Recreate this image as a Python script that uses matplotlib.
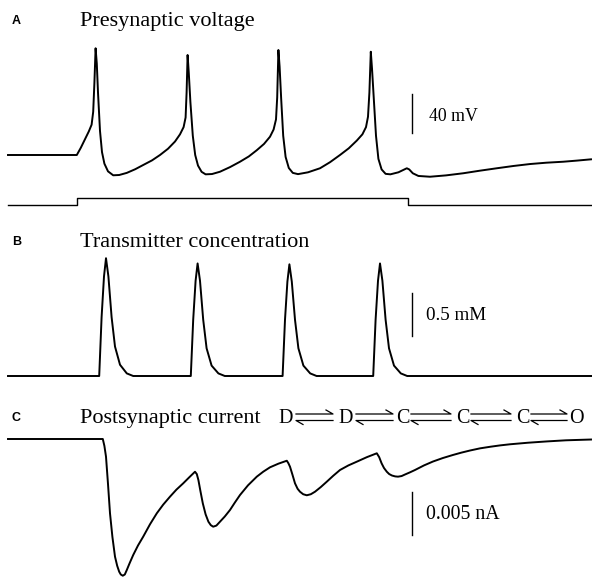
import matplotlib
matplotlib.use('Agg')
import matplotlib.pyplot as plt

W, H = 592, 577

# presynaptic voltage (time in ms, voltage in mV)
t_pre = [0, 17.2, 18.2, 19.2, 20.2, 20.9, 21.3, 21.6, 21.9, 22.2, 22.5, 23.0, 23.5, 24.1,
         25.0, 26.3, 27.8, 29.7, 31.8, 33.8, 36.0, 38.0, 40.0, 41.75, 43.0, 43.9, 44.4,
         44.65, 44.9, 45.2, 45.6, 46.2, 46.8, 47.5, 48.4, 49.4, 51.0, 53.0, 55.5, 58.0,
         60.2, 62.2, 64.0, 65.5, 66.4, 67.0, 67.3, 67.6, 67.9, 68.3, 68.8, 69.4, 70.2,
         71.2, 72.5, 75.0, 78.0, 80.5, 83.0, 85.2, 87.2, 88.6, 89.5, 90.0, 90.35, 90.7,
         91.0, 91.5, 92.0, 92.6, 93.4, 94.4, 95.6, 97.6, 99.7, 100.3, 101.2, 102.6,
         105.5, 109.5, 113.8, 118.0, 122.2, 126.4, 130.5, 134.6, 138.8, 142.3, 145.75]
v_pre = [-70, -70, -62.5, -54.0, -45.5, -38.5, -25.0, 5.0, 41.0, 25.0, -5.0, -45.0, -67.0, -79.0,
         -87.0, -91.1, -90.8, -88.6, -84.8, -80.4, -75.6, -70.0, -63.5, -56.0, -48.5, -41.0, -31.0,
         -5.0, 34.0, 15.0, -15.0, -50.0, -70.0, -81.0, -87.5, -90.1, -89.8, -87.4, -82.6, -77.0,
         -71.5, -65.0, -58.5, -51.0, -43.5, -33.0, -10.0, 39.2, 22.0, -12.0, -50.0, -72.0, -83.5,
         -88.6, -89.9, -88.0, -83.8, -77.5, -70.0, -63.0, -55.0, -48.5, -41.0, -30.2, -5.0, 37.4,
         20.0, -15.0, -50.0, -74.0, -85.0, -89.6, -90.1, -88.0, -83.8, -85.0, -89.0, -91.8,
         -92.6, -91.2, -89.0, -86.3, -83.8, -81.4, -79.4, -78.0, -77.0, -75.8, -74.5]

# injected current step (arbitrary units)
t_stim = [0, 17.15, 17.15, 99.9, 99.9, 146]
i_stim = [0, 0, 1, 1, 0, 0]

# transmitter concentration (mM)
t_tr = [0,
        22.8, 23.4, 24.0, 24.5, 25.1, 25.9, 26.75, 28.0, 29.7, 31.3,
        45.7, 46.3, 46.9, 47.4, 48.0, 48.8, 49.65, 50.9, 52.6, 54.2,
        68.65, 69.25, 69.85, 70.35, 70.95, 71.75, 72.6, 73.85, 75.55, 77.15,
        91.3, 91.9, 92.5, 93.0, 93.6, 94.4, 95.25, 96.5, 98.2, 99.8,
        146]
c_tr = [0,
        0, 0.68, 1.15, 1.36, 1.15, 0.68, 0.34, 0.13, 0.03, 0,
        0, 0.65, 1.10, 1.30, 1.10, 0.65, 0.32, 0.12, 0.03, 0,
        0, 0.65, 1.09, 1.29, 1.09, 0.65, 0.32, 0.12, 0.03, 0,
        0, 0.65, 1.10, 1.30, 1.10, 0.65, 0.32, 0.12, 0.03, 0,
        0]

# postsynaptic current (nA)
t_post = [0, 23.7, 24.1, 24.5, 25.0, 25.5, 26.1, 26.75, 27.3, 27.8, 28.2, 28.7, 29.2, 29.7,
          30.4, 31.3, 32.5, 33.8, 35.5, 37.2, 38.8, 40.5, 42.1, 43.8, 45.3, 46.75, 47.2,
          47.6, 48.1, 48.7, 49.4, 50.1, 50.7, 51.3, 52.1, 53.0, 54.2, 55.5, 56.7, 58.0,
          60.0, 62.2, 63.8, 65.5, 67.6, 69.7, 70.1, 70.5, 71.1, 71.75, 72.4, 73.0, 73.8,
          74.7, 75.7, 76.75, 78.2, 79.7, 81.3, 83.0, 85.1, 87.2, 89.7, 92.2, 92.8, 93.4,
          94.0, 94.7, 95.3, 96.0, 96.8, 97.5, 98.4, 99.25, 100.5, 101.75, 104.0, 106.25,
          108.7, 111.2, 113.3, 115.5, 118.0, 120.65, 123.0, 125.5, 130.0, 134.7, 139.5,
          145.75]
i_post = [0, 0, -0.0008, -0.00204, -0.0052, -0.00858, -0.0113, -0.01359, -0.01465, -0.01533,
          -0.01565, -0.01579, -0.01565, -0.01513, -0.01435, -0.0134, -0.0123, -0.01128,
          -0.00985, -0.00858, -0.00758, -0.00666, -0.00585, -0.00512, -0.00443, -0.00378,
          -0.00405, -0.00474, -0.0060, -0.00743, -0.0087, -0.00955, -0.00995, -0.01013,
          -0.01, -0.00955, -0.00895, -0.0082, -0.00735, -0.00647, -0.00535, -0.00435,
          -0.00378, -0.00327, -0.00285, -0.00251, -0.0028, -0.0032, -0.0041, -0.00512,
          -0.00575, -0.00609, -0.00638, -0.0065, -0.00638, -0.00609, -0.00555, -0.00493,
          -0.00425, -0.00358, -0.00305, -0.00262, -0.0021, -0.00165, -0.0021, -0.00281,
          -0.00335, -0.00378, -0.00405, -0.00422, -0.00432, -0.00435, -0.00428, -0.0041,
          -0.00385, -0.00358, -0.00305, -0.0026, -0.0022, -0.00185, -0.00158, -0.00133,
          -0.00108, -0.00089, -0.00074, -0.00061, -0.00043, -0.00028, -0.00015, -0.00006]

scheme = ['D', 'D', 'C', 'C', 'C', 'O']

fig = plt.figure(figsize=(W / 100, H / 100), dpi=100)
serif = ['Liberation Serif', 'DejaVu Serif']
sans = ['Liberation Sans', 'DejaVu Sans']


def trace_axes(row, value, per_px):
    # row: pixel row where `value` sits; per_px: data units per pixel
    ax = fig.add_axes([0, 0, 1, 1])
    ax.set_xlim(-2, 146)
    ax.set_ylim(value - (H - row) * per_px, value + row * per_px)
    ax.axis('off')
    ax.patch.set_alpha(0)
    return ax


def ftext(x, y, s, **kw):
    fig.text(x / W, 1 - y / H, s, va='baseline', **kw)


ax_a = trace_axes(155, -70, 1.04)
ax_a.plot(t_pre, v_pre, color='black', lw=1.4, solid_joinstyle='round')
ax_a.plot([101, 101], [-47, -7], color='black', lw=1.0)

ax_s = trace_axes(205, 0, 1 / 7)
ax_s.plot(t_stim, i_stim, color='black', lw=1.0)

ax_b = trace_axes(376, 0, 1 / 86.6)
ax_b.plot(t_tr, c_tr, color='black', lw=1.4, solid_joinstyle='round')
ax_b.plot([101, 101], [0.462, 0.962], color='black', lw=1.0)

ax_c = trace_axes(439, 0, 0.0001155)
ax_c.plot(t_post, i_post, color='black', lw=1.4, solid_joinstyle='round')
ax_c.plot([101, 101], [-0.01109, -0.00609], color='black', lw=1.0)

# labels and titles
for lab, title, base in [('A', 'Presynaptic voltage', 26),
                         ('B', 'Transmitter concentration', 247),
                         ('C', 'Postsynaptic current', 423)]:
    ftext(12, base - 2, lab, family=sans, weight='bold', fontsize=9)
    ftext(80, base, title, family=serif, fontsize=16)

ftext(429, 121, '40 mV', family=serif, fontsize=12.8)
ftext(426, 320, '0.5 mM', family=serif, fontsize=13.8)
ftext(426, 519, '0.005 nA', family=serif, fontsize=14.3)

# kinetic scheme with harpoon arrows
ann = fig.add_axes([0, 0, 1, 1])
ann.set_xlim(0, W)
ann.set_ylim(H, 0)
ann.axis('off')
ann.patch.set_alpha(0)
letter_x = [278, 338, 396, 456, 516, 569]
for s, x in zip(scheme, letter_x):
    ftext(x, 423, s, family=serif, fontsize=14.5)
arrows = [(296, 333), (356, 393), (411, 451), (471, 511), (531, 567)]
for x1, x2 in arrows:
    ann.plot([x1, x2, x2 - 7], [414, 414, 410], color='black', lw=0.9)
    ann.plot([x2, x1, x1 + 7], [420.5, 420.5, 424.5], color='black', lw=0.9)

fig.savefig('out.png', dpi=100)
